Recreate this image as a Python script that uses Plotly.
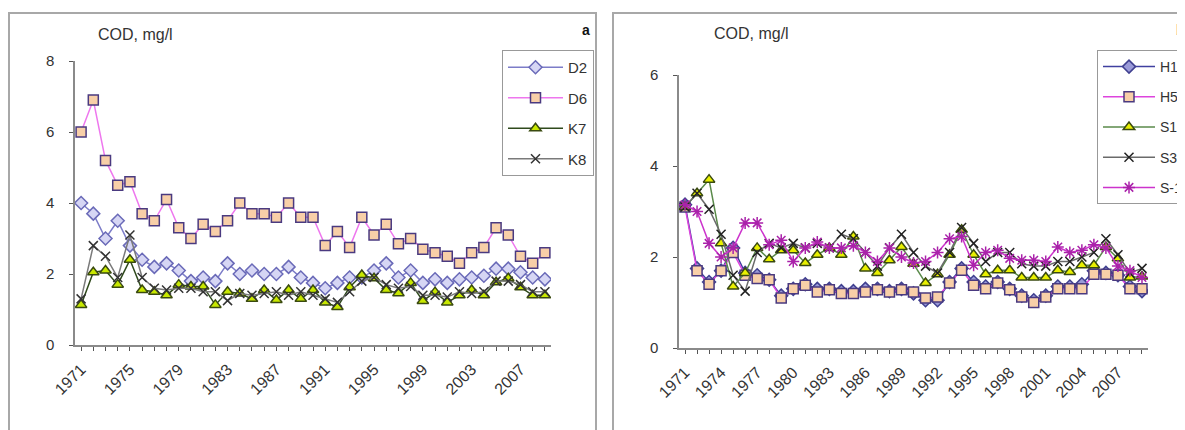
import plotly.graph_objects as go

years = list(range(1971, 2010))
labels_a = [str(y) if (y - 1971) % 4 == 0 else "" for y in years]
labels_b = [str(y) if (y - 1971) % 3 == 0 else "" for y in years]

# Panel a
d2 = [4.0, 3.7, 3.0, 3.5, 2.8, 2.4, 2.2, 2.3, 2.1, 1.8,
      1.9, 1.8, 2.3, 2.0, 2.1, 2.0, 2.0, 2.2, 1.9, 1.75,
      1.6, 1.75, 1.9, 1.9, 2.1, 2.3, 1.9, 2.1, 1.75, 1.85,
      1.75, 1.85, 1.9, 1.95, 2.15, 2.15, 2.05, 1.9, 1.85]
d6 = [6.0, 6.9, 5.2, 4.5, 4.6, 3.7, 3.5, 4.1, 3.3, 3.0,
      3.4, 3.2, 3.5, 4.0, 3.7, 3.7, 3.6, 4.0, 3.6, 3.6,
      2.8, 3.2, 2.75, 3.6, 3.1, 3.4, 2.85, 3.0, 2.7, 2.6,
      2.5, 2.3, 2.6, 2.75, 3.3, 3.1, 2.5, 2.3, 2.6]
k7 = [1.13, 2.05, 2.1, 1.7, 2.4, 1.55, 1.5, 1.4, 1.7, 1.65,
      1.65, 1.13, 1.5, 1.45, 1.3, 1.55, 1.27, 1.55, 1.3, 1.55,
      1.2, 1.07, 1.63, 1.97, 1.88, 1.55, 1.46, 1.75, 1.24, 1.49,
      1.2, 1.4, 1.55, 1.4, 1.77, 1.88, 1.63, 1.4, 1.4]
k8 = [1.3, 2.8, 2.5, 1.9, 3.1, 1.9, 1.6, 1.55, 1.6, 1.6,
      1.5, 1.5, 1.25, 1.45, 1.4, 1.45, 1.5, 1.4, 1.5, 1.4,
      1.3, 1.2, 1.5, 1.8, 1.9, 1.7, 1.6, 1.65, 1.4, 1.4,
      1.35, 1.5, 1.45, 1.5, 1.8, 1.8, 1.7, 1.5, 1.5]

# Panel b
h1 = [3.15, 1.75, 1.45, 1.7, 2.2, 1.65, 1.6, 1.5, 1.15, 1.3,
      1.4, 1.3, 1.3, 1.25, 1.25, 1.3, 1.3, 1.25, 1.3, 1.2,
      1.05, 1.05, 1.45, 1.75, 1.45, 1.35, 1.45, 1.3, 1.15, 1.05,
      1.15, 1.35, 1.35, 1.4, 1.7, 1.65, 1.6, 1.35, 1.25]
h5 = [3.1, 1.7, 1.4, 1.7, 2.1, 1.6, 1.53, 1.5, 1.1, 1.3,
      1.38, 1.23, 1.28, 1.2, 1.2, 1.23, 1.28, 1.23, 1.28, 1.23,
      1.1, 1.12, 1.43, 1.71, 1.38, 1.3, 1.43, 1.28, 1.12, 1.0,
      1.12, 1.3, 1.3, 1.3, 1.62, 1.62, 1.6, 1.3, 1.3]
s1 = [3.1, 3.4, 3.7, 2.3, 1.35, 1.65, 2.2, 1.95, 2.15, 2.15,
      1.87, 2.05, 2.2, 2.05, 2.45, 1.75, 1.65, 1.93, 2.22, 1.85,
      1.43, 1.62, 2.05, 2.6, 2.05, 1.62, 1.71, 1.71, 1.55, 1.55,
      1.55, 1.71, 1.67, 1.82, 1.82, 2.22, 1.97, 1.55, 1.57]
s3 = [3.1, 3.4, 3.05, 2.5, 1.6, 1.25, 2.1, 2.3, 2.2, 2.3,
      2.2, 2.3, 2.2, 2.5, 2.4, 2.1, 1.8, 2.2, 2.5, 2.1,
      1.8, 1.65, 2.1, 2.65, 2.3, 1.9, 2.1, 2.1, 1.85, 1.8,
      1.8, 1.9, 1.9, 2.0, 2.1, 2.4, 2.05, 1.65, 1.75]
sm1 = [3.15, 3.0, 2.3, 2.0, 2.2, 2.75, 2.75, 2.27, 2.37, 1.9,
       2.2, 2.33, 2.2, 2.2, 2.25, 2.1, 1.9, 2.2, 2.0, 1.87,
       1.9, 2.1, 2.4, 2.45, 1.82, 2.1, 2.15, 1.97, 1.93, 1.93,
       1.9, 2.22, 2.1, 2.15, 2.27, 2.2, 1.8, 1.7, 1.55]

# the page body has an 8px margin, so the figure is shrunk to fit the window
OFF = 8
W, H = 1185 - OFF, 430 - OFF
FONT = "Liberation Sans, Arial, sans-serif"

fig = go.Figure()


def add(y, name, xa, ya, leg, lc, sym, fill, edge, size):
    fig.add_trace(go.Scatter(
        x=years, y=y, name=name, mode="lines+markers",
        xaxis=xa, yaxis=ya, legend=leg, legendgroup=name,
        line=dict(color=lc, width=1.5),
        marker=dict(symbol=sym, color=fill, size=size,
                    line=dict(color=edge, width=1.5)),
    ))


add(d2, "D2", "x", "y", "legend", "#7c7cc8", "diamond", "#d6d6f4", "#6a6ab8", 10)
add(d6, "D6", "x", "y", "legend", "#ee77ee", "square", "#f8cfa8", "#4a3a80", 10)
add(k7, "K7", "x", "y", "legend", "#2f4a1c", "triangle-up", "#c8e800", "#3a4a10", 10)
add(k8, "K8", "x", "y", "legend", "#7a7a7a", "x-thin-open", "#333333", "#333333", 9)

add(h1, "H1", "x2", "y2", "legend2", "#4040a0", "diamond", "#9a9ad8", "#404090", 10)
add(h5, "H5", "x2", "y2", "legend2", "#dd44dd", "square", "#f8cfa8", "#4a3a80", 10)
add(s1, "S1", "x2", "y2", "legend2", "#5a8a4a", "triangle-up", "#e8f000", "#3a4a10", 10)
add(s3, "S3", "x2", "y2", "legend2", "#6a6a6a", "x-thin-open", "#222222", "#222222", 9)
add(sm1, "S-1", "x2", "y2", "legend2", "#cc33cc", "asterisk-open", "#aa22aa", "#aa22aa", 10)


def px(x):
    return (x - OFF) / W


def py(y):
    return 1 - (y - OFF) / H


axis_common = dict(
    showgrid=False, zeroline=False, showline=True, linecolor="#8a8a8a",
    linewidth=1.5, ticks="outside", ticklen=4, tickcolor="#555",
)
xfont = dict(family=FONT, size=16, color="#333")
yfont = dict(family=FONT, size=15, color="#333")

fig.update_layout(
    width=W, height=H,
    margin=dict(l=0, r=0, t=0, b=0, autoexpand=False),
    paper_bgcolor="white", plot_bgcolor="white",
    font=dict(family=FONT, color="#333"),
    showlegend=True,
    xaxis=dict(domain=[px(75), px(551)], anchor="y", range=[1970.5, 2009.5],
               tickvals=years, ticktext=labels_a, tickangle=-45,
               ticklabelstandoff=3, tickfont=xfont, **axis_common),
    yaxis=dict(domain=[py(345), py(61)], anchor="x", range=[0, 8],
               tickvals=[0, 2, 4, 6, 8], ticklabelstandoff=12,
               tickfont=yfont, **axis_common),
    xaxis2=dict(domain=[px(679), px(1148)], anchor="y2", range=[1970.5, 2009.5],
                tickvals=years, ticktext=labels_b, tickangle=-45,
                ticklabelstandoff=3, tickfont=xfont, **axis_common),
    yaxis2=dict(domain=[py(348), py(75)], anchor="x2", range=[0, 6],
                tickvals=[0, 2, 4, 6], ticklabelstandoff=12,
                tickfont=yfont, **axis_common),
    legend=dict(x=px(502), y=py(50), xanchor="left", yanchor="top",
                bgcolor="white", bordercolor="#999", borderwidth=1,
                font=dict(family=FONT, size=15, color="#333"),
                itemwidth=55, tracegroupgap=8, traceorder="grouped"),
    legend2=dict(x=px(1097), y=py(50), xanchor="left", yanchor="top",
                 bgcolor="white", bordercolor="#999", borderwidth=1,
                 font=dict(family=FONT, size=14, color="#333"),
                 itemwidth=52, tracegroupgap=9, traceorder="grouped"),
    shapes=[
        dict(type="rect", xref="paper", yref="paper", x0=px(9), x1=px(596),
             y0=-0.2, y1=py(13), line=dict(color="#a8a8a8", width=2)),
        dict(type="rect", xref="paper", yref="paper", x0=px(613), x1=1.2,
             y0=-0.2, y1=py(13), line=dict(color="#a8a8a8", width=2)),
    ],
    annotations=[
        dict(text="COD, mg/l", xref="paper", yref="paper", x=px(96), y=py(35),
             xanchor="left", yanchor="middle", showarrow=False,
             font=dict(family=FONT, size=16, color="#333")),
        dict(text="COD, mg/l", xref="paper", yref="paper", x=px(712), y=py(33),
             xanchor="left", yanchor="middle", showarrow=False,
             font=dict(family=FONT, size=16, color="#333")),
        dict(text="<b>a</b>", xref="paper", yref="paper", x=px(586), y=py(30),
             xanchor="center", yanchor="middle", showarrow=False,
             font=dict(family=FONT, size=14, color="#111")),
        dict(text="<b>b</b>", xref="paper", yref="paper", x=px(1174), y=py(30),
             xanchor="left", yanchor="middle", showarrow=False,
             font=dict(family=FONT, size=14, color="#111")),
    ],
)

fig.write_html("out.html")
